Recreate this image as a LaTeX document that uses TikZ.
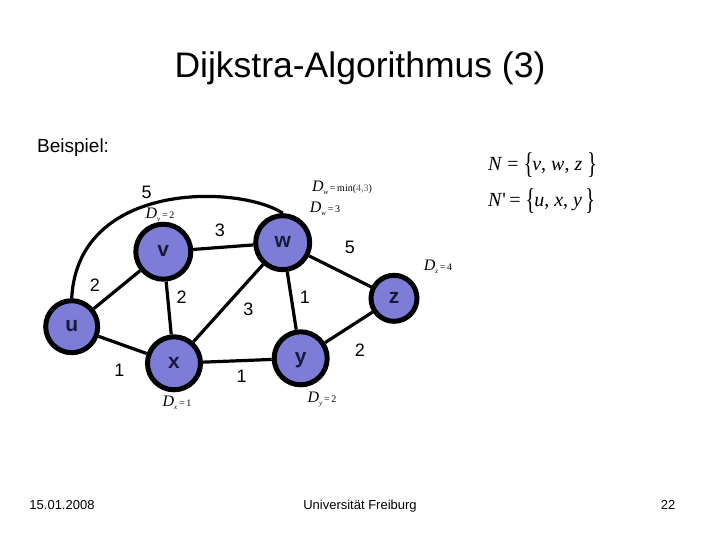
\documentclass[tikz,border=0pt]{standalone}
\usepackage{fontspec}
\usepackage{graphicx}
\setmainfont{Liberation Sans}
\newfontfamily\tms{Liberation Serif}
\usetikzlibrary{backgrounds}
\definecolor{nodefill}{RGB}{125,125,215}
\definecolor{nodetext}{RGB}{25,25,60}
\definecolor{dimgrey}{RGB}{90,90,90}
\newcommand\Dlab[2]{{\tms\fontsize{16}{16}\selectfont\itshape D}\raisebox{-3pt}{\tms\fontsize{7}{7}\selectfont\itshape #1}{\tms\fontsize{10}{10}\selectfont\,=\,#2}}
\newcommand\bigbr[1]{\raisebox{-3pt}{\scalebox{1}[1.5]{#1}}}
\tikzset{
  vert/.style={circle, draw=black, line width=5pt, fill=nodefill, minimum size=53pt, inner sep=0pt,
    font=\fontsize{21}{21}\selectfont\bfseries, text=nodetext, text height=10.5pt, text depth=0pt},
  edge/.style={line width=3.2pt},
  wlab/.style={font=\fontsize{18}{18}\selectfont, inner sep=0pt},
  dlab/.style={inner sep=0pt},
  foot/.style={font=\fontsize{13}{13}\selectfont, inner sep=0pt, anchor=base},
}
\begin{document}
\begin{tikzpicture}[x=1pt,y=-1pt]
\useasboundingbox (0,0) rectangle (720,540);
% title
\node[font=\fontsize{35.5}{35.5}\selectfont, inner sep=0pt] (title) at (360,68) {Dijkstra-Algorithmus (3)};
\node[font=\fontsize{19}{19}\selectfont, inner sep=0pt, anchor=west] (beispiel) at (37,148) {Beispiel:};
% vertices
\node[vert, minimum size=52pt] (u) at (71.7,326.7) {u};
\node[vert, minimum size=55pt] (v) at (163.3,251.7) {v};
\node[vert, minimum size=54pt] (w) at (282.7,242.7) {w};
\node[vert, minimum size=46pt] (z) at (394,298.3) {z};
\node[vert] (x) at (174,363.3) {x};
\node[vert] (y) at (300.7,358.3) {y};
% edges
\begin{scope}[on background layer]
\draw[edge] (u) -- (v);
\draw[edge] (u) -- (x);
\draw[edge] (v) -- (x);
\draw[edge] (v) -- (w);
\draw[edge] (x) -- (w);
\draw[edge] (x) -- (y);
\draw[edge] (w) -- (y);
\draw[edge] (w) -- (z);
\draw[edge] (y) -- (z);
\draw[edge] (u.north) .. controls (78,180) and (240,185) .. (w.north);
\end{scope}
% weights
\node[wlab] (l1) at (146.7,192.7) {5};
\node[wlab] (l2) at (220,230) {3};
\node[wlab] (l3) at (350,247.3) {5};
\node[wlab] (l4) at (95,285) {2};
\node[wlab] (l5) at (181.7,297) {2};
\node[wlab] (l6) at (248.3,309) {3};
\node[wlab] (l7) at (305,297) {1};
\node[wlab] (l8) at (360,350) {2};
\node[wlab] (l9) at (119.3,370) {1};
\node[wlab] (l10) at (241.7,376.7) {1};
% distance labels
\node[dlab] (dv) at (160,215) {\Dlab{v}{2}};
\node[dlab] (dwmin) at (342,188) {\Dlab{w}{min(\textcolor{dimgrey}{4,3})}};
\node[dlab] (dw) at (325,209) {\Dlab{w}{3}};
\node[dlab] (dz) at (438,267) {\Dlab{z}{4}};
\node[dlab] (dx) at (177,403) {\Dlab{x}{1}};
\node[dlab] (dy) at (322,400) {\Dlab{y}{2}};
% sets
\node[inner sep=0pt, anchor=west, font=\tms\fontsize{20}{20}\selectfont] (N) at (488,165)
  {\textit{N} = \bigbr{\{}\kern-1pt\textit{v}, \textit{w}, \textit{z} \bigbr{\}}};
\node[inner sep=0pt, anchor=west, font=\tms\fontsize{20}{20}\selectfont] (Np) at (488,201)
  {\textit{N}'\,= \bigbr{\{}\kern-1pt\textit{u}, \textit{x}, \textit{y}\,\bigbr{\}}};
% footer
\node[foot] (date) at (62,509) {15.01.2008};
\node[foot] (uni) at (360,509) {Universität Freiburg};
\node[foot] (page) at (668,509) {22};
\end{tikzpicture}
\end{document}
